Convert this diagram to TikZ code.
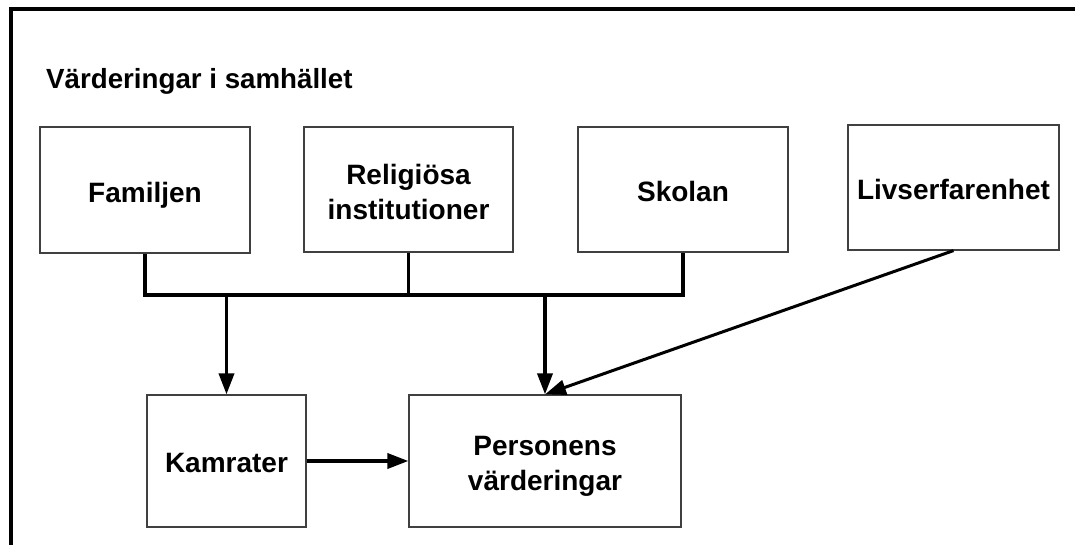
\documentclass[tikz,border=0pt]{standalone}
\usepackage{fontspec}
\setmainfont{Liberation Sans}
\usetikzlibrary{arrows.meta}
\begin{document}
\begin{tikzpicture}[x=1pt,y=-1pt,
  labelfont/.style={font=\fontsize{28}{35}\selectfont\bfseries},
  box/.style={draw=black!75, line width=1.2pt, inner sep=0pt},
  boxtext/.style={label={[labelfont, align=center, inner sep=0pt, text depth=0pt, yshift=-2pt]center:#1}},
  link/.style={line width=3.6pt, line join=miter},
  arrowlink/.style={link, -{Triangle[length=21pt,width=15pt]}},
  frame/.style={line width=4pt, line join=miter}]
\useasboundingbox (0,0) rectangle (1075,545);

% open frame along the top and left edges
\draw[frame] (1076,9.5) -- (11,9.5) -- (11,546);

% heading
\node[anchor=base west, inner sep=0pt, font=\fontsize{27.7}{32}\selectfont\bfseries]
  (title) at (46,89) {Värderingar i samhället};

% sources of values
\node[box, minimum width=210pt, minimum height=126pt, boxtext={Familjen}] (fam) at (145,190) {};
\node[box, minimum width=209pt, minimum height=125pt, boxtext={Religiösa\\institutioner}] (rel) at (408.5,189.5) {};
\node[box, minimum width=210pt, minimum height=125pt, boxtext={Skolan}] (sko) at (683,189.5) {};
\node[box, minimum width=211pt, minimum height=125pt, boxtext={Livserfarenhet}] (liv) at (953.5,187.5) {};

% receivers
\node[box, minimum width=159pt, minimum height=132pt, boxtext={Kamrater}] (kam) at (226.5,461) {};
\node[box, minimum width=272pt, minimum height=132pt, boxtext={Personens\\värderingar}] (per) at (545,461) {};

% collecting bus below the top row
\coordinate (bus) at (0,295);
\draw[link] (fam.south) -- (fam.south |- bus) -- (sko.south |- bus) -- (sko.south);
\draw[link] (rel.south) -- (rel.south |- bus);

% arrows
\draw[arrowlink] (kam.north |- bus) -- (kam.north);
\draw[arrowlink] (per.north |- bus) -- (per.north);
\draw[arrowlink, line width=3pt] (liv.south) -- (per.north);
\draw[arrowlink] (kam.east) -- (per.west);
\end{tikzpicture}
\end{document}
